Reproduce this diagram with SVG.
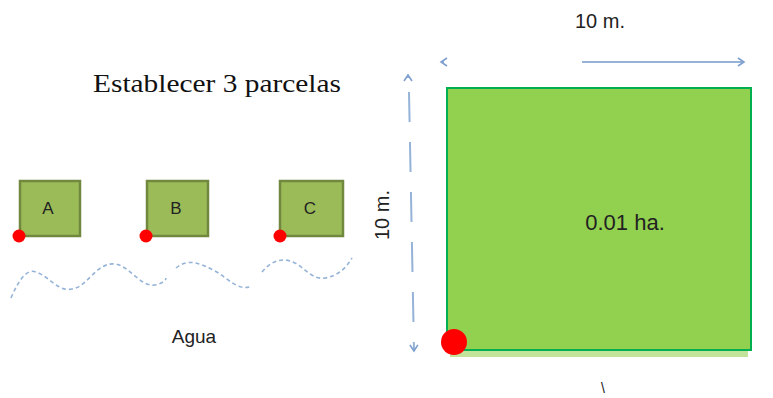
<svg xmlns="http://www.w3.org/2000/svg" width="773" height="398" viewBox="0 0 773 398">
<style>
.plot{fill:#9BBB59;stroke:#71893F;stroke-width:2.5}
.lbl{font-family:"Liberation Sans",Arial,sans-serif;font-size:17px;fill:#222;text-anchor:middle}
.dot{fill:#FF0000}
.dim{stroke:#95B3D7;stroke-width:2;fill:none}
.txt{font-family:"Liberation Sans",Arial,sans-serif;fill:#222}
</style>
<defs>
<marker id="ah" viewBox="0 0 10 10" refX="8" refY="5" markerWidth="10" markerHeight="10" orient="auto-start-reverse" markerUnits="userSpaceOnUse">
<path d="M2,1 L8,5 L2,9" fill="none" stroke="#7F9FCF" stroke-width="1.6"/>
</marker>
</defs>
<rect width="773" height="398" fill="#FFFFFF"/>
<text x="217" y="92" font-family="'Liberation Serif',Georgia,serif" font-size="26" fill="#111" text-anchor="middle" textLength="248" lengthAdjust="spacingAndGlyphs">Establecer 3 parcelas</text>
<g id="plotA"><rect class="plot" x="20" y="181" width="60" height="55"/><text class="lbl" x="48" y="214">A</text></g>
<g id="plotB"><rect class="plot" x="147" y="181" width="61" height="55"/><text class="lbl" x="176" y="214">B</text></g>
<g id="plotC"><rect class="plot" x="280" y="181" width="63" height="55"/><text class="lbl" x="310" y="214">C</text></g>
<g id="markers">
<circle class="dot" cx="19" cy="236" r="6.5"/>
<circle class="dot" cx="146" cy="236" r="6.5"/>
<circle class="dot" cx="280" cy="236" r="6.5"/>
</g>
<g id="water">
<path d="M11,298 C18,282 26,268 36,272 C50,277 58,292 72,289 C88,287 96,262 115,264 C130,266 140,287 155,285 C162,284 166,280 166,278" fill="none" stroke="#95B3D7" stroke-width="1.6" stroke-dasharray="4,3"/>
<path d="M176,268 C188,258 200,263 215,271 C228,278 238,292 252,286" fill="none" stroke="#95B3D7" stroke-width="1.6" stroke-dasharray="4,3"/>
<path d="M262,272 C270,262 282,256 295,263 C305,268 312,280 325,278 C338,276 346,268 352,258" fill="none" stroke="#95B3D7" stroke-width="1.6" stroke-dasharray="4,3"/>
<text class="txt" x="194" y="343" font-size="19" text-anchor="middle">Agua</text>
</g>
<g id="field">
<rect x="450" y="349" width="298" height="8" fill="#C3E29A"/>
<rect x="447" y="88" width="304" height="262" fill="#92D050" stroke="#00B050" stroke-width="2"/>
<text class="txt" x="625" y="230" font-size="22" text-anchor="middle">0.01 ha.</text>
<circle class="dot" cx="454" cy="342" r="13"/>
</g>
<g id="connectors">
<path class="dim" d="M441,62 L444,62" marker-start="url(#ah)"/>
<path class="dim" d="M582,62 L744,62" marker-end="url(#ah)"/>
<path class="dim" d="M408,75 L408,78" marker-start="url(#ah)"/>
<path class="dim" d="M409,92 L414,351" stroke-dasharray="30,20" marker-end="url(#ah)"/>
</g>
<text class="txt" x="600" y="28" font-size="20" text-anchor="middle">10 m.</text>
<text class="txt" x="0" y="0" font-size="20" text-anchor="middle" transform="translate(389,215) rotate(-90)">10 m.</text>
<text class="txt" x="603" y="393" font-size="14" text-anchor="middle">\</text>
</svg>
